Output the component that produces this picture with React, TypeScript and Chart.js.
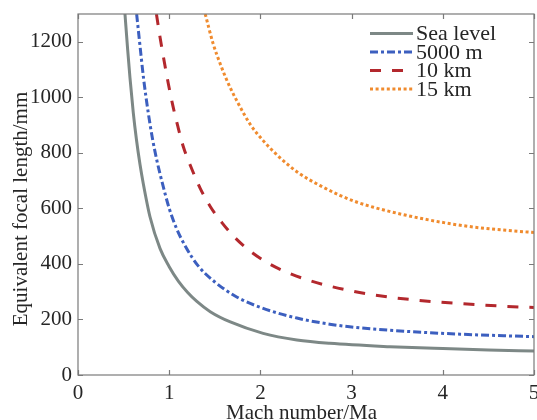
import React, { useEffect, useRef } from "react";
import { Chart, registerables } from "chart.js";

Chart.register(...registerables);

const seriesNames = ["Sea level", "5000 m", "10 km", "15 km"];
const seriesColors = ["#7d8886", "#3c5fbf", "#b3282d", "#f08b2e"];
const seriesDashes: number[][] = [[], [8, 3, 3, 3], [11, 11], [3, 2.6]];

const seaLevelMach = [0.515, 0.545, 0.57, 0.606, 0.64, 0.68, 0.716, 0.79, 0.9, 1.0, 1.1, 1.2, 1.3, 1.45, 1.67, 2.03, 2.4, 2.76, 3.42, 4.0, 4.5, 5.0];
const seaLevelFocal = [1300, 1170, 1070, 945, 850, 758, 689, 569, 455, 390, 338, 298, 266, 228, 191, 150, 126, 114, 102, 95, 90, 86];

const alt5000Mach = [0.643, 0.68, 0.72, 0.77, 0.82, 0.87, 0.92, 1.0, 1.08, 1.18, 1.32, 1.5, 1.74, 2.03, 2.4, 2.76, 3.0, 3.42, 4.19, 5.0];
const alt5000Focal = [1300, 1185, 1065, 945, 845, 765, 697, 600, 528, 462, 392, 335, 281, 240, 205, 183, 173, 161, 147, 138];

const alt10Mach = [0.86, 0.9, 0.945, 0.99, 1.04, 1.095, 1.155, 1.25, 1.34, 1.45, 1.58, 1.72, 1.9, 2.11, 2.32, 2.54, 2.76, 2.98, 3.2, 3.45, 3.7, 3.93, 4.17, 4.41, 4.65, 4.88, 5.0];
const alt10Focal = [1300, 1215, 1130, 1050, 970, 895, 822, 740, 672, 607, 548, 495, 443, 398, 366, 340, 320, 304, 291, 279, 270, 263, 257.5, 252.5, 248, 244.5, 243];

const alt15Mach = [1.395, 1.48, 1.56, 1.65, 1.76, 1.886, 2.03, 2.21, 2.43, 2.65, 2.87, 3.07, 3.24, 3.6, 3.97, 4.33, 4.7, 5.0];
const alt15Focal = [1300, 1195, 1120, 1048, 976, 904, 844, 784, 725, 683, 647, 621, 604, 575, 551, 533, 521, 513];

const machValues = [seaLevelMach, alt5000Mach, alt10Mach, alt15Mach];
const focalValues = [seaLevelFocal, alt5000Focal, alt10Focal, alt15Focal];

const xTicks = [0, 1, 2, 3, 4, 5];
const yTicks = [0, 200, 400, 600, 800, 1000, 1200];

const xTitle = "Mach number/Ma";
const yTitle = "Equivalent focal length/mm";

const FONT = "Liberation Serif";
const TEXT = "#262626";
const AXIS = "#7a7a7a";

const framePlugin = {
  id: "frameTicksLegend",
  afterDatasetsDraw(chart: any) {
    const { ctx, chartArea: a, scales } = chart;
    const x = scales.x;
    const y = scales.y;
    ctx.save();
    ctx.setLineDash([]);
    ctx.strokeStyle = AXIS;
    ctx.lineWidth = 1.2;
    ctx.strokeRect(a.left, a.top, a.right - a.left, a.bottom - a.top);
    const L = 5;
    ctx.beginPath();
    xTicks.forEach((v) => {
      const px = Math.round(x.getPixelForValue(v)) + 0.5;
      ctx.moveTo(px, a.bottom);
      ctx.lineTo(px, a.bottom - L);
      ctx.moveTo(px, a.top);
      ctx.lineTo(px, a.top + L);
    });
    yTicks.forEach((v) => {
      const py = Math.round(y.getPixelForValue(v)) + 0.5;
      ctx.moveTo(a.left, py);
      ctx.lineTo(a.left + L, py);
      ctx.moveTo(a.right, py);
      ctx.lineTo(a.right - L, py);
    });
    ctx.stroke();

    // axis titles
    ctx.fillStyle = TEXT;
    ctx.font = `21px "${FONT}"`;
    ctx.textAlign = "center";
    ctx.textBaseline = "alphabetic";
    ctx.fillText(xTitle, 301.5, 418.5);
    ctx.save();
    ctx.translate(27, 209);
    ctx.rotate(-Math.PI / 2);
    ctx.fillText(yTitle, 0, 0);
    ctx.restore();

    // legend
    const lx0 = 370;
    const lx1 = 413;
    const tx = 416;
    const rowY = [33.5, 52, 70.5, 89];
    chart.data.datasets.forEach((ds: any, i: number) => {
      const yy = rowY[i];
      ctx.beginPath();
      ctx.strokeStyle = ds.borderColor;
      ctx.lineWidth = ds.borderWidth;
      ctx.setLineDash(ds.borderDash || []);
      ctx.lineCap = "butt";
      ctx.moveTo(lx0, yy);
      ctx.lineTo(lx1, yy);
      ctx.stroke();
      ctx.setLineDash([]);
      ctx.fillStyle = TEXT;
      ctx.font = `22px "${FONT}"`;
      ctx.textAlign = "left";
      ctx.textBaseline = "middle";
      ctx.fillText(ds.label, tx, yy + 1);
    });
    ctx.restore();
  },
};

export default function App() {
  const ref = useRef<HTMLCanvasElement | null>(null);

  useEffect(() => {
    const canvas = ref.current;
    if (!canvas) return;
    const datasets = seriesNames.map((name, i) => ({
      label: name,
      data: machValues[i].map((m, j) => ({ x: m, y: focalValues[i][j] })),
      borderColor: seriesColors[i],
      backgroundColor: seriesColors[i],
      borderWidth: 3,
      borderDash: seriesDashes[i],
      pointRadius: 0,
      fill: false,
      cubicInterpolationMode: "monotone" as const,
    }));
    const chart = new Chart(canvas, {
      type: "line",
      data: { datasets },
      options: {
        responsive: false,
        animation: false,
        devicePixelRatio: 1,
        font: { family: FONT },
        layout: { padding: { top: 14, right: 3, left: 0, bottom: 0 }, autoPadding: false },
        plugins: {
          legend: { display: false },
          tooltip: { enabled: false },
        },
        scales: {
          x: {
            type: "linear",
            min: 0,
            max: 5,
            grid: { display: false, drawTicks: false },
            border: { display: false },
            afterBuildTicks: (s: any) => {
              s.ticks = xTicks.map((v) => ({ value: v }));
            },
            afterFit: (s: any) => {
              s.height = 45;
              s.paddingLeft = 0;
              s.paddingRight = 0;
              s.paddingTop = 0;
              s.paddingBottom = 0;
            },
            ticks: {
              autoSkip: false,
              maxRotation: 0,
              padding: 6,
              color: TEXT,
              font: { family: FONT, size: 21 },
              callback: (v: any) => String(v),
            },
            title: { display: false },
          },
          y: {
            type: "linear",
            min: 0,
            max: 1300,
            grid: { display: false, drawTicks: false },
            border: { display: false },
            afterBuildTicks: (s: any) => {
              s.ticks = yTicks.map((v) => ({ value: v }));
            },
            afterFit: (s: any) => {
              s.width = 78;
              s.paddingLeft = 0;
              s.paddingRight = 0;
              s.paddingTop = 0;
              s.paddingBottom = 0;
            },
            ticks: {
              autoSkip: false,
              padding: 6,
              color: TEXT,
              font: { family: FONT, size: 21 },
              callback: (v: any) => String(v),
            },
            title: { display: false },
          },
        },
      },
      plugins: [framePlugin],
    });
    return () => chart.destroy();
  }, []);

  return (
    <div style={{ position: "absolute", left: 0, top: 0, width: 537, height: 420, background: "#fff" }}>
      <canvas ref={ref} width={537} height={420} style={{ display: "block", width: 537, height: 420 }} />
    </div>
  );
}
